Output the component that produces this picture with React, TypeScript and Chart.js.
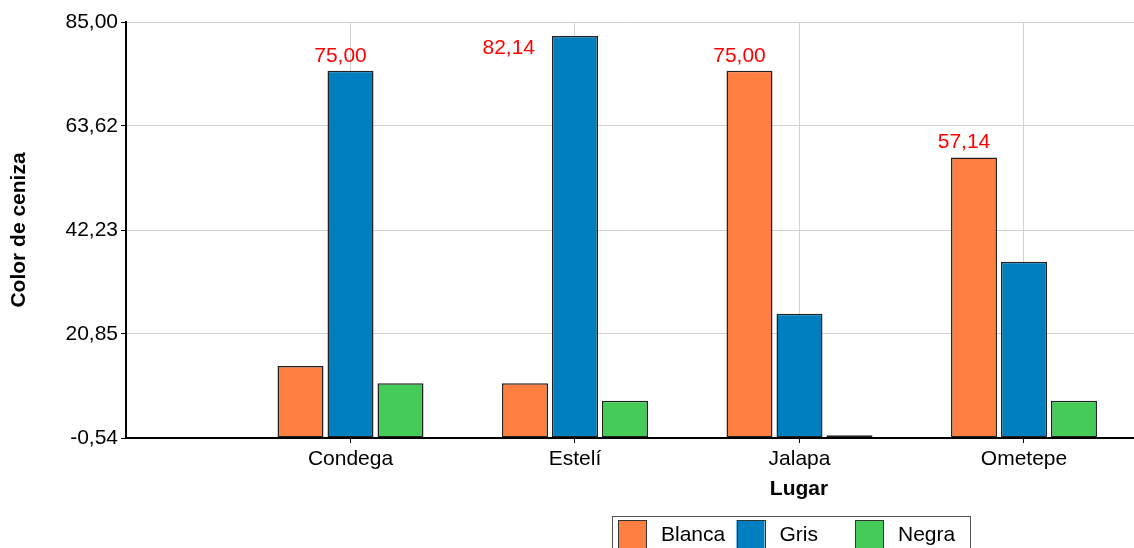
import React, { useEffect, useRef } from 'react';
import { Chart, registerables } from 'chart.js';

Chart.register(...registerables);

// ---- data ----
const categories = ['Condega', 'Estelí', 'Jalapa', 'Ometepe'];
const categoryPositions = [1, 2, 3, 4];
const seriesNames = ['Blanca', 'Gris', 'Negra'];
const blanca = [14.29, 10.71, 75.0, 57.14];
const gris = [75.0, 82.14, 25.0, 35.71];
const negra = [10.71, 7.14, 0.0, 7.14];
const yTicks = [-0.54, 20.85, 42.23, 63.62, 85.0];

const seriesValues = [blanca, gris, negra];
const seriesColors = ['#FF7F40', '#007FC0', '#45CC58'];

const FONT = '"Liberation Sans", Arial, sans-serif';
const fmt = (v: number) => v.toFixed(2).replace('.', ',');

const valueLabelPlugin = {
  id: 'valueLabels',
  afterDatasetsDraw(chart: any) {
    const ctx = chart.ctx;
    const area = chart.chartArea;
    ctx.save();
    ctx.font = `21px ${FONT}`;
    ctx.fillStyle = '#FF0000';
    ctx.textBaseline = 'alphabetic';
    categories.forEach((_, i) => {
      let best = 0;
      seriesValues.forEach((s, k) => {
        if (s[i] > seriesValues[best][i]) best = k;
      });
      const bar = chart.getDatasetMeta(best).data[i];
      if (!bar) return;
      const text = fmt(seriesValues[best][i]);
      const top = bar.y;
      if (top - 8 - 15 < area.top) {
        ctx.textAlign = 'right';
        ctx.fillText(text, bar.x - bar.width / 2 - 17, top + 18);
      } else {
        ctx.textAlign = 'center';
        ctx.fillText(text, bar.x - 10, top - 9);
      }
    });
    ctx.restore();
  },
};

const legendPlugin = {
  id: 'customLegend',
  afterDraw(chart: any) {
    const ctx = chart.ctx;
    ctx.save();
    // x axis title
    ctx.font = `bold 21px ${FONT}`;
    ctx.fillStyle = '#000';
    ctx.textAlign = 'center';
    ctx.textBaseline = 'alphabetic';
    ctx.fillText('Lugar', 799, 495);

    // legend box
    const lx = 612.5;
    const ly = 516.5;
    ctx.strokeStyle = '#555';
    ctx.lineWidth = 1;
    ctx.strokeRect(lx, ly, 358, 60);
    ctx.font = `21px ${FONT}`;
    ctx.textAlign = 'left';
    seriesNames.forEach((name, k) => {
      const sx = 618 + k * 118.5;
      ctx.fillStyle = seriesColors[k];
      ctx.fillRect(sx, 520, 28, 28);
      ctx.strokeStyle = '#333';
      ctx.strokeRect(Math.round(sx) + 0.5, 520.5, 28, 28);
      ctx.fillStyle = '#000';
      ctx.fillText(name, sx + 43, 541);
    });
    ctx.restore();
  },
};

export default function App() {
  const ref = useRef<HTMLCanvasElement | null>(null);

  useEffect(() => {
    document.body.style.margin = '0';
    const canvas = ref.current;
    if (!canvas) return;
    const chart = new Chart(canvas, {
      type: 'bar',
      data: {
        datasets: seriesValues.map((vals, k) => ({
          label: seriesNames[k],
          data: categoryPositions.map((x, i) => ({ x, y: vals[i] })),
          backgroundColor: seriesColors[k],
          borderColor: '#222',
          borderWidth: 1.5,
          borderSkipped: false,
          base: yTicks[0],
          categoryPercentage: 0.668,
          barPercentage: 0.92,
        })),
      },
      options: {
        animation: false,
        responsive: false,
        devicePixelRatio: 1,
        layout: { padding: { top: 22, right: 0, left: 0, bottom: 0 } },
        plugins: {
          legend: { display: false },
          tooltip: { enabled: false },
        },
        scales: {
          x: {
            type: 'linear',
            offset: false,
            min: 0,
            max: 4.49,
            afterBuildTicks: (s: any) => {
              s.ticks = categoryPositions.map((v) => ({ value: v }));
            },
            afterFit: (s: any) => {
              s.height = 110;
            },
            ticks: {
              autoSkip: false,
              maxRotation: 0,
              padding: 4,
              color: '#000',
              font: { family: FONT, size: 21 },
              callback: (v: any) => {
                const idx = categoryPositions.indexOf(Number(v));
                return idx >= 0 ? categories[idx] : '';
              },
            },
            grid: {
              offset: false,
              color: '#d2d2d2',
              tickColor: '#000',
              tickLength: 5,
              lineWidth: 1,
            },
            border: { color: '#000', width: 2, z: 1 },
          },
          y: {
            min: yTicks[0],
            max: yTicks[yTicks.length - 1],
            afterBuildTicks: (s: any) => {
              s.ticks = yTicks.map((v) => ({ value: v }));
            },
            afterFit: (s: any) => {
              s.width = 126;
            },
            ticks: {
              padding: 3,
              color: '#000',
              font: { family: FONT, size: 21 },
              callback: (v: any) => fmt(Number(v)),
            },
            grid: {
              color: '#d2d2d2',
              tickColor: '#000',
              tickLength: 5,
              lineWidth: 1,
            },
            border: { color: '#000', width: 2 },
            title: {
              display: true,
              text: 'Color de ceniza',
              color: '#000',
              font: { family: FONT, size: 21, weight: 'bold' },
              padding: { top: 7, bottom: 0 },
            },
          },
        },
      } as any,
      plugins: [valueLabelPlugin, legendPlugin],
    });
    return () => chart.destroy();
  }, []);

  return (
    <div style={{ width: 1134, height: 548, background: '#fff' }}>
      <canvas ref={ref} width={1134} height={548} style={{ display: 'block' }} />
    </div>
  );
}
